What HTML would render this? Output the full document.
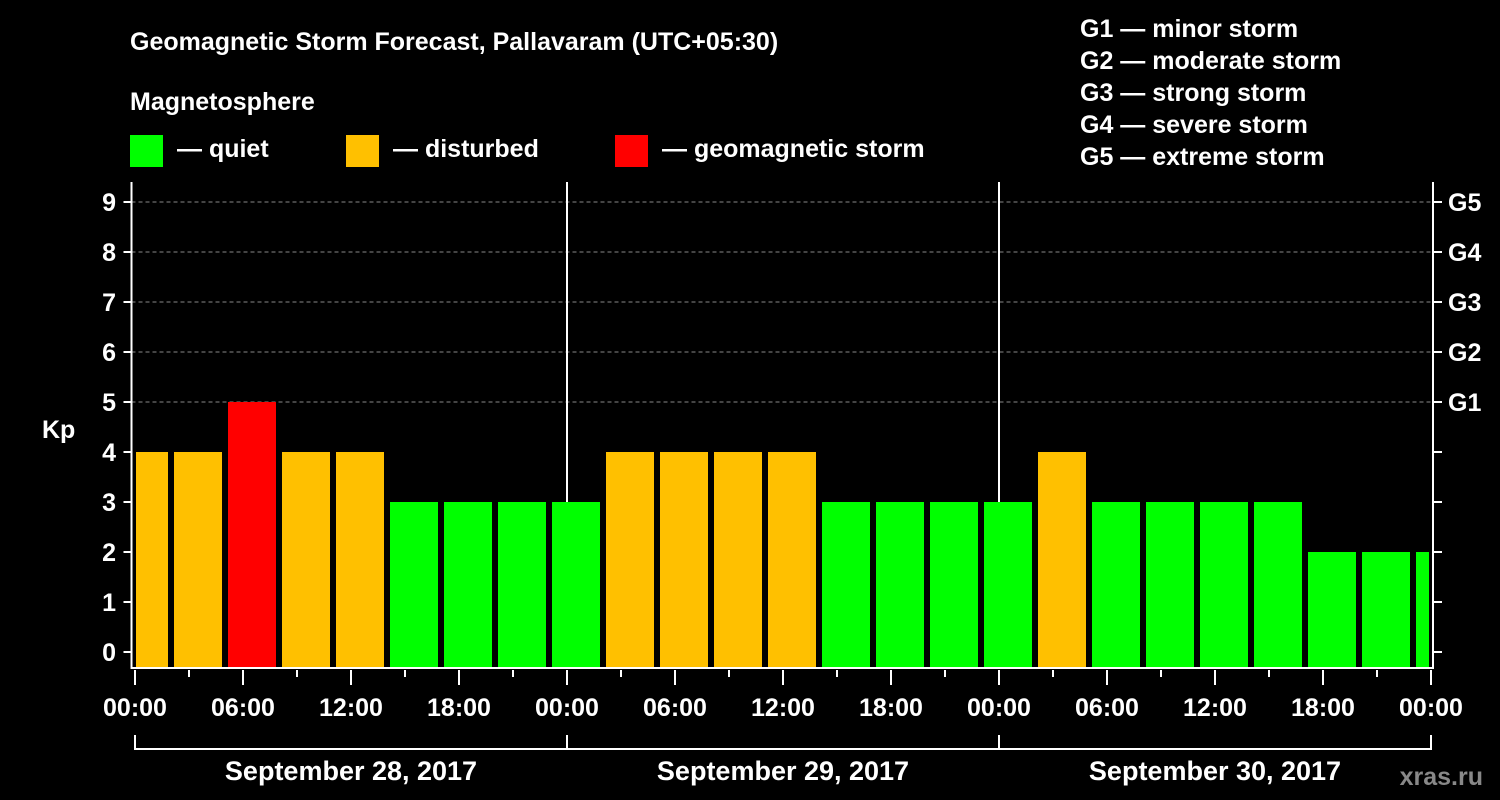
<!DOCTYPE html>
<html><head><meta charset="utf-8"><style>
body{margin:0;background:#000;}
svg{display:block;font-family:"Liberation Sans",Arial,sans-serif;font-weight:bold;}
</style></head><body>
<svg id="c" width="1500" height="800" viewBox="0 0 1500 800">
<rect width="1500" height="800" fill="#000"/>
<text x="130" y="50" fill="#fff" font-size="25">Geomagnetic Storm Forecast, Pallavaram (UTC+05:30)</text>
<text x="130" y="110" fill="#fff" font-size="25">Magnetosphere</text>
<g><rect x="130" y="135" width="33" height="32" fill="#00ff00"/><text x="177" y="157" fill="#fff" font-size="25">— quiet</text></g>
<g><rect x="346" y="135" width="33" height="32" fill="#ffc000"/><text x="393" y="157" fill="#fff" font-size="25">— disturbed</text></g>
<g><rect x="615" y="135" width="33" height="32" fill="#ff0000"/><text x="662" y="157" fill="#fff" font-size="25">— geomagnetic storm</text></g>
<g fill="#fff" font-size="25">
<text x="1080" y="37">G1 — minor storm</text>
<text x="1080" y="69">G2 — moderate storm</text>
<text x="1080" y="101">G3 — strong storm</text>
<text x="1080" y="133">G4 — severe storm</text>
<text x="1080" y="165">G5 — extreme storm</text>
</g>
<text x="42" y="438" fill="#fff" font-size="25">Kp</text>
<text x="1483" y="785" fill="#888" font-size="25" text-anchor="end">xras.ru</text>
<g id="grid"></g><g id="bars"></g><g id="axes"></g>
</svg>
<script>
const startHours=[-1,2,5,8,11,14,17,20,23,26,29,32,35,38,41,44,47,50,53,56,59,62,65,68,71];
const kpValues=[4,4,5,4,4,3,3,3,3,4,4,4,4,3,3,3,3,4,3,3,3,3,2,2,2];
const yTicks=[0,1,2,3,4,5,6,7,8,9];
const gLabels=["G1","G2","G3","G4","G5"];
const gLevels=[5,6,7,8,9];
const xTickLabels=["00:00","06:00","12:00","18:00","00:00","06:00","12:00","18:00","00:00","06:00","12:00","18:00","00:00"];
const dayLabels=["September 28, 2017","September 29, 2017","September 30, 2017"];
const NS="http://www.w3.org/2000/svg";
const X0=135,PXH=18,Y0=652,PXU=50,L=131.5,R=1433,T=182,B=668,XMAX=72;
const xs=h=>X0+h*PXH, ys=v=>Y0-v*PXU;
function mk(p,tag,a,txt){const e=document.createElementNS(NS,tag);for(const k in a)e.setAttribute(k,a[k]);if(txt!=null)e.textContent=txt;p.appendChild(e);return e;}
const grid=document.getElementById('grid'),bars=document.getElementById('bars'),axes=document.getElementById('axes');
gLevels.forEach((v,i)=>{
 const l=mk(grid,'line',{x1:L,x2:R,y1:ys(v),y2:ys(v),stroke:'#888','stroke-dasharray':'4,3','stroke-width':1});
 
 
 const t=mk(axes,'text',{x:1448,y:ys(v)+9,fill:'#fff','font-size':25},gLabels[i]);
 
 
});
[24,48].forEach(h=>{
 const l=mk(grid,'line',{x1:xs(h),x2:xs(h),y1:T,y2:B,stroke:'#fff','stroke-width':2});
 
 
});
startHours.forEach((h,i)=>{
 const v=kpValues[i];
 let x1=Math.max(xs(h)+3,X0+1),x2=Math.min(xs(h+3)-3,xs(XMAX)-2);
 const c=v>=5?'#ff0000':(v>=4?'#ffc000':'#00ff00');
 const r=mk(bars,'rect',{x:x1,y:ys(v),width:x2-x1,height:B-ys(v),fill:c});
 
 
});
const fr=mk(axes,'path',{d:`M${L},${T}V${B}H${R}V${T}`,stroke:'#fff','stroke-width':2,fill:'none'});


yTicks.forEach(v=>{
 mk(axes,'line',{x1:L-8,x2:L,y1:ys(v),y2:ys(v),stroke:'#fff','stroke-width':2});
 mk(axes,'line',{x1:R,x2:R+9,y1:ys(v),y2:ys(v),stroke:'#fff','stroke-width':2});
 const t=mk(axes,'text',{x:116,y:ys(v)+9,fill:'#fff','font-size':25,'text-anchor':'end'},String(v));
 
 
});
for(let h=0;h<=XMAX;h+=3){
 const major=h%6===0;
 mk(axes,'line',{x1:xs(h),x2:xs(h),y1:670,y2:major?685:677,stroke:'#fff','stroke-width':2});
}
xTickLabels.forEach((s,i)=>{
 const t=mk(axes,'text',{x:xs(i*6),y:716,fill:'#fff','font-size':25,'text-anchor':'middle'},s);
 
 
});
mk(axes,'path',{d:`M${xs(0)},735V749H${xs(72)}V735M${xs(24)},735V749M${xs(48)},735V749`,stroke:'#fff','stroke-width':2,fill:'none'});
dayLabels.forEach((s,i)=>{
 const t=mk(axes,'text',{x:xs(i*24+12),y:780,fill:'#fff','font-size':27,'text-anchor':'middle'},s);
 
 
});
</script>
</body></html>
